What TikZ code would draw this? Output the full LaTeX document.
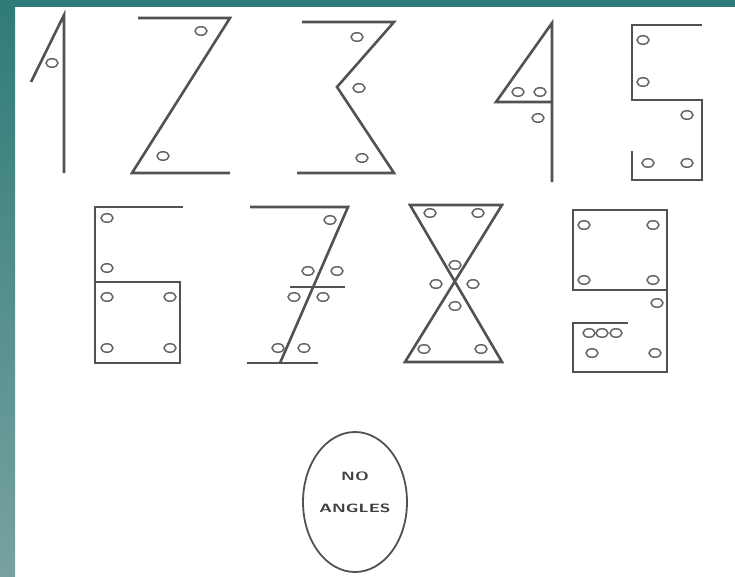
\documentclass[tikz,border=0pt]{standalone}
\usetikzlibrary{shapes.geometric}
\definecolor{tealtop}{HTML}{2F7B79}
\definecolor{tealbot}{HTML}{78A2A0}
\begin{document}
\begin{tikzpicture}[x=1pt,y=-1pt,
  stroke/.style={draw=black!68, line width=2.6pt, line join=miter},
  ang/.style={ellipse, draw=black!60, line width=1.5pt, minimum width=12pt, minimum height=8.5pt, inner sep=0pt},
  lbl/.style={font=\fontsize{12}{12}\selectfont\sffamily\bfseries, text=black!75, xscale=1.45, inner sep=0pt}]
\useasboundingbox (0,0) rectangle (735,576);
\fill[white] (0,0) rectangle (735,576);
\shade[top color=tealtop, bottom color=tealbot] (0,0) rectangle (15,576);
\fill[tealtop] (0,0) rectangle (735,7);
% digit 1
\coordinate (a1) at (64,15); \coordinate (a2) at (64,173); \coordinate (a3) at (31,82);
\draw[stroke] (a3) -- (a1) -- (a2);
\node[ang] (c11) at (52,63) {};
% digit 2
\coordinate (b1) at (138,18); \coordinate (b2) at (230,18); \coordinate (b3) at (132,173); \coordinate (b4) at (230,173);
\draw[stroke] (b1) -- (b2) -- (b3) -- (b4);
\node[ang] (c21) at (201,31) {};
\node[ang] (c22) at (163,156) {};
% digit 3
\coordinate (d1) at (302,22); \coordinate (d2) at (394,22); \coordinate (d3) at (337,87); \coordinate (d4) at (394,173); \coordinate (d5) at (297,173);
\draw[stroke] (d1) -- (d2) -- (d3) -- (d4) -- (d5);
\node[ang] (c31) at (357,37) {};
\node[ang] (c32) at (359,88) {};
\node[ang] (c33) at (362,158) {};
% digit 4
\coordinate (e1) at (552,23); \coordinate (e2) at (552,182); \coordinate (e3) at (496,102); \coordinate (e4) at (552,102);
\draw[stroke] (e2) -- (e1) -- (e3) -- (e4);
\node[ang] (c41) at (518,92) {};
\node[ang] (c42) at (540,92) {};
\node[ang] (c43) at (538,118) {};
% digit 5
\coordinate (f1) at (702,25); \coordinate (f2) at (632,25); \coordinate (f3) at (632,100); \coordinate (f4) at (702,100);
\coordinate (f5) at (702,180); \coordinate (f6) at (632,180); \coordinate (f7) at (632,151);
\draw[stroke] (f1) -- (f2) -- (f3) -- (f4) -- (f5) -- (f6) -- (f7);
\node[ang] (c51) at (643,40) {};
\node[ang] (c52) at (643,82) {};
\node[ang] (c53) at (687,115) {};
\node[ang] (c54) at (648,163) {};
\node[ang] (c55) at (687,163) {};
% digit 6
\coordinate (g1) at (183,207); \coordinate (g2) at (95,207); \coordinate (g3) at (95,363);
\coordinate (g4) at (180,363); \coordinate (g5) at (180,282); \coordinate (g6) at (95,282);
\draw[stroke] (g1) -- (g2) -- (g3) -- (g4) -- (g5) -- (g6);
\node[ang] (c61) at (107,218) {};
\node[ang] (c62) at (107,268) {};
\node[ang] (c63) at (107,297) {};
\node[ang] (c64) at (170,297) {};
\node[ang] (c65) at (107,348) {};
\node[ang] (c66) at (170,348) {};
% digit 7
\coordinate (h1) at (250,207); \coordinate (h2) at (348,207); \coordinate (h3) at (280,363);
\coordinate (h4) at (247,363); \coordinate (h5) at (318,363);
\coordinate (h6) at (290,287); \coordinate (h7) at (345,287);
\draw[stroke] (h1) -- (h2) -- (h3);
\draw[stroke] (h4) -- (h5);
\draw[stroke] (h6) -- (h7);
\node[ang] (c71) at (330,220) {};
\node[ang] (c72) at (308,271) {};
\node[ang] (c73) at (337,271) {};
\node[ang] (c74) at (294,297) {};
\node[ang] (c75) at (323,297) {};
\node[ang] (c76) at (278,348) {};
\node[ang] (c77) at (304,348) {};
% digit 8
\coordinate (i1) at (410,205); \coordinate (i2) at (502,205); \coordinate (i3) at (502,362); \coordinate (i4) at (405,362);
\draw[stroke] (i1) -- (i2) -- (i4) -- (i3) -- cycle;
\node[ang] (c81) at (430,213) {};
\node[ang] (c82) at (478,213) {};
\node[ang] (c83) at (455,265) {};
\node[ang] (c84) at (436,284) {};
\node[ang] (c85) at (473,284) {};
\node[ang] (c86) at (455,306) {};
\node[ang] (c87) at (424,349) {};
\node[ang] (c88) at (481,349) {};
% digit 9
\coordinate (j1) at (573,210); \coordinate (j2) at (667,210); \coordinate (j3) at (667,290); \coordinate (j4) at (573,290);
\coordinate (j5) at (667,372); \coordinate (j6) at (573,372); \coordinate (j7) at (573,323); \coordinate (j8) at (628,323);
\draw[stroke] (j3) -- (j4) -- (j1) -- (j2) -- (j5) -- (j6) -- (j7) -- (j8);
\node[ang] (c91) at (584,225) {};
\node[ang] (c92) at (653,225) {};
\node[ang] (c93) at (584,280) {};
\node[ang] (c94) at (653,280) {};
\node[ang] (c95) at (657,303) {};
\node[ang] (c96) at (589,333) {};
\node[ang] (c97) at (602,333) {};
\node[ang] (c98) at (616,333) {};
\node[ang] (c99) at (592,353) {};
\node[ang] (c90) at (655,353) {};
% no angles
\node[ellipse, draw=black!68, line width=1.8pt, minimum width=104pt, minimum height=140pt] (oval) at (355,502) {};
\node[lbl] (no) at (355,476) {NO};
\node[lbl] (angles) at (355,508) {ANGLES};
\end{tikzpicture}
\end{document}
